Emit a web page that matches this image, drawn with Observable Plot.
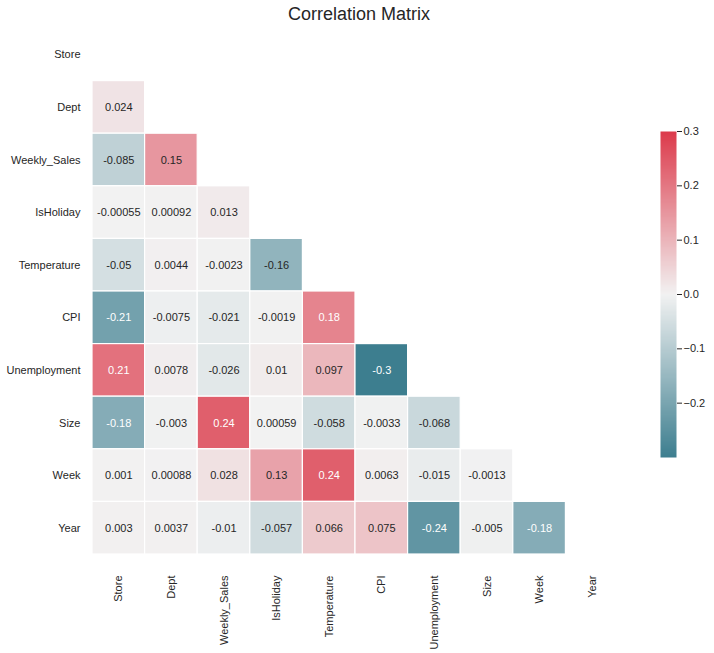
<!DOCTYPE html>
<html>
<head>
<meta charset="utf-8">
<script src="https://cdn.jsdelivr.net/npm/d3@7"></script>
<script src="https://cdn.jsdelivr.net/npm/@observablehq/plot@0.6"></script>
<style>
  html, body { margin: 0; padding: 0; background: #fff; }
  #wrap { position: relative; width: 714px; height: 653px; font-family: "Liberation Sans", Arial, sans-serif; color: #262626; }
  #title { position: absolute; left: 2px; width: 714px; top: 4px; text-align: center; font-size: 18px; }
  #main { position: absolute; left: 0; top: 0; }
  #cbar { position: absolute; left: 620px; top: 0; }
</style>
</head>
<body>
<div id="wrap">
  <div id="main"></div>
  <div id="cbar"></div>
  <div id="title">Correlation Matrix</div>
</div>
<script>
const variables = ["Store", "Dept", "Weekly_Sales", "IsHoliday", "Temperature", "CPI", "Unemployment", "Size", "Week", "Year"];

// lower triangle values (row i, columns 0..i-1)
const rowDept = [0.024];
const rowWeeklySales = [-0.085, 0.15];
const rowIsHoliday = [-0.00055, 0.00092, 0.013];
const rowTemperature = [-0.05, 0.0044, -0.0023, -0.16];
const rowCPI = [-0.21, -0.0075, -0.021, -0.0019, 0.18];
const rowUnemployment = [0.21, 0.0078, -0.026, 0.01, 0.097, -0.3];
const rowSize = [-0.18, -0.003, 0.24, 0.00059, -0.058, -0.0033, -0.068];
const rowWeek = [0.001, 0.00088, 0.028, 0.13, 0.24, 0.0063, -0.015, -0.0013];
const rowYear = [0.003, 0.0037, -0.01, -0.057, 0.066, 0.075, -0.24, -0.005, -0.18];

const colorbarTicks = [-0.2, -0.1, 0.0, 0.1, 0.2, 0.3];

const rows = [[], rowDept, rowWeeklySales, rowIsHoliday, rowTemperature, rowCPI, rowUnemployment, rowSize, rowWeek, rowYear];
const cells = [];
rows.forEach((vals, i) => vals.forEach((v, j) => cells.push({row: variables[i], col: variables[j], value: v})));

const colorScale = {
  type: "linear",
  domain: [-0.3, 0, 0.3],
  range: ["#3d7e8f", "#f2f2f2", "#dc3a4b"],
  interpolate: "rgb",
  clamp: true
};
const cfn = d3.scaleLinear().domain([-0.3, 0, 0.3]).range(["#3d7e8f", "#f2f2f2", "#dc3a4b"]).interpolate(d3.interpolateRgb).clamp(true);
function lum(c) {
  const r = d3.rgb(c);
  const f = x => { x /= 255; return x <= 0.03928 ? x / 12.92 : Math.pow((x + 0.055) / 1.055, 2.4); };
  return 0.2126 * f(r.r) + 0.7152 * f(r.g) + 0.0722 * f(r.b);
}

const main = Plot.plot({
  width: 630,
  height: 653,
  marginLeft: 92,
  marginRight: 12,
  marginTop: 28,
  marginBottom: 99,
  style: { fontFamily: "'Liberation Sans', Arial, sans-serif", fontSize: "11px", color: "#262626", background: "transparent" },
  x: { domain: variables, padding: 0, round: false, label: null, tickSize: 0, tickPadding: 21, tickRotate: -90 },
  y: { domain: variables, padding: 0, round: false, label: null, tickSize: 0, tickPadding: 12 },
  color: colorScale,
  marks: [
    Plot.cell(cells, { x: "col", y: "row", fill: "value", stroke: "white", strokeWidth: 1.2, inset: 0 }),
    Plot.text(cells, {
      x: "col", y: "row",
      text: d => String(d.value),
      fill: d => lum(cfn(d.value)) < 0.408 ? "white" : "#262626",
      fontSize: 11
    })
  ]
});
document.getElementById("main").appendChild(main);

const cbar = Plot.plot({
  width: 94,
  height: 653,
  marginLeft: 40,
  marginRight: 38,
  marginTop: 131,
  marginBottom: 653 - 457,
  style: { fontFamily: "'Liberation Sans', Arial, sans-serif", fontSize: "11px", color: "#262626", background: "transparent" },
  x: { domain: [0, 1], axis: null },
  y: { domain: [-0.3, 0.3], axis: "right", ticks: colorbarTicks, tickSize: 5, tickPadding: 2, label: null, tickFormat: d => d3.format(".1f")(d).replace("-", "\u2212") },
  color: colorScale,
  marks: [
    Plot.raster({ x1: 0, x2: 1, y1: -0.3, y2: 0.3, width: 1, height: 300, fill: (x, y) => y, imageRendering: "auto" })
  ]
});
document.getElementById("cbar").appendChild(cbar);
</script>
</body>
</html>
